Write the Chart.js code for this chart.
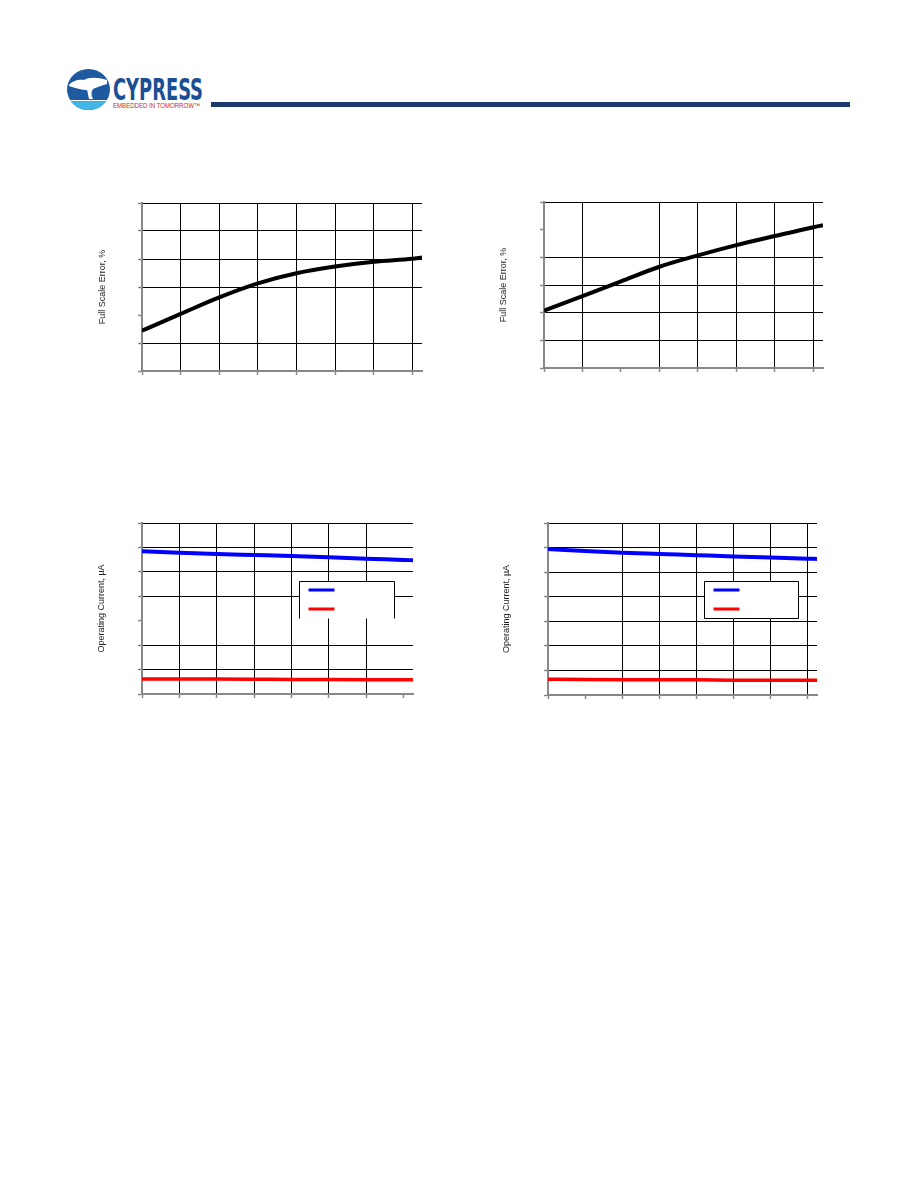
<!DOCTYPE html>
<html>
<head>
<meta charset="utf-8">
<script src="https://cdn.jsdelivr.net/npm/chart.js@4.4.0/dist/chart.umd.min.js"></script>
<style>
  body { margin: 0; background: #fff; width: 918px; height: 1188px; position: relative; overflow: hidden; }
  .abs { position: absolute; }
  .bar { left: 211px; top: 102px; width: 639px; height: 5px; background: #1b3a6e; }
</style>
</head>
<body>

<svg class="abs" style="left:60px;top:62px" width="160" height="54" viewBox="0 0 160 54">
  <defs><clipPath id="globe"><ellipse cx="28.5" cy="27.5" rx="21.5" ry="20.5"/></clipPath></defs>
  <g clip-path="url(#globe)">
    <rect width="60" height="60" fill="#1e5aa0"/>
    <rect y="38" width="60" height="1.2" fill="#fff"/>
    <rect y="39.2" width="60" height="14" fill="#41b6e6"/>
    <path d="M9 23 C12 19 18 17 24 18 C29 15 37 15 47 18 L47 22 C41 24 37 25 33 27 C31 30 31 33 33 37 L29 37 C28 33 28 31 27 28 C22 28 15 26 9 24 Z" fill="#fff"/>
  </g>
  <text x="53" y="38" font-family="Liberation Sans Narrow, DejaVu Sans Condensed, sans-serif" font-weight="bold" font-size="30" fill="#1a4f94" textLength="90" lengthAdjust="spacingAndGlyphs">CYPRESS</text>
  <text x="53" y="46" font-family="Liberation Sans, sans-serif" font-size="6.5" fill="#d2232a" textLength="87" lengthAdjust="spacingAndGlyphs">EMBEDDED IN TOMORROW™</text>
</svg>
<div class="abs bar"></div>

<canvas id="c1" class="abs" style="left:90px;top:195px" width="340" height="185"></canvas>
<canvas id="c2" class="abs" style="left:490px;top:194px" width="340" height="185"></canvas>
<canvas id="c3" class="abs" style="left:90px;top:515px" width="330" height="190"></canvas>
<canvas id="c4" class="abs" style="left:490px;top:515px" width="335" height="190"></canvas>

<script>
// x positions shared by all four plots (labels are not printed in the source)
const tempC = [-40, -20, 0, 20, 40, 60, 80, 100, 105];
const xTicks = [-40, -20, 0, 20, 40, 60, 80, 100];

// full scale error, %
const fseTicks = [-3, -2, -1, 0, 1, 2, 3];
const fseLeft = [-1.56, -0.96, -0.37, 0.13, 0.49, 0.73, 0.90, 1.01, 1.05];
const fseRight = [-0.93, -0.40, 0.13, 0.66, 1.07, 1.44, 1.77, 2.09, 2.16];

// operating current, uA
const curTicks = [0, 10, 20, 30, 40, 50, 60, 70];
const activeLeft = [58.4, 57.8, 57.3, 56.9, 56.5, 56.0, 55.4, 54.9, 54.75];
const sleepLeft = [6.1, 6.1, 6.1, 6.05, 5.95, 5.9, 5.85, 5.8, 5.8];
const activeRight = [59.4, 58.6, 57.9, 57.4, 56.9, 56.4, 56.0, 55.5, 55.35];
const sleepRight = [6.4, 6.3, 6.25, 6.25, 6.2, 6.05, 6.0, 6.0, 6.0];

const AXIS = '#888888';

const legendBox = (closed) => ({
  id: 'legendBox',
  afterDatasetsDraw(chart) {
    const a = chart.chartArea, ctx = chart.ctx;
    const l = Math.round(a.left + a.width * 0.58) + 0.5;
    const r = Math.round(a.left + a.width * 0.93) + 0.5;
    const t = Math.round(a.top + a.height * 0.34) + 0.5;
    const b = Math.round(a.top + a.height * 0.555) + 0.5;
    ctx.save();
    ctx.fillStyle = '#fff';
    ctx.fillRect(l, t, r - l, b - t);
    ctx.strokeStyle = '#000';
    ctx.lineWidth = 1;
    ctx.beginPath();
    if (closed) {
      ctx.rect(l, t, r - l, b - t);
    } else {
      ctx.moveTo(l, b); ctx.lineTo(l, t); ctx.lineTo(r, t); ctx.lineTo(r, b);
    }
    ctx.stroke();
    chart.data.datasets.forEach((ds, i) => {
      ctx.strokeStyle = ds.borderColor;
      ctx.lineWidth = 3;
      ctx.beginPath();
      const y = t + 8.5 + i * 19;
      ctx.moveTo(l + 9, y);
      ctx.lineTo(l + 35, y);
      ctx.stroke();
    });
    ctx.restore();
  }
});

function gridColor(hide) {
  return (c) => (c.tick && (c.index === 0 || hide.includes(c.tick.value))) ? 'rgba(0,0,0,0)' : '#000';
}

function makeChart(id, o) {
  return new Chart(document.getElementById(id), {
    type: 'line',
    data: {
      datasets: o.sets.map(s => ({
        data: tempC.map((x, i) => ({ x: x, y: s.data[i] })),
        borderColor: s.color,
        borderWidth: s.width,
        pointRadius: 0,
        cubicInterpolationMode: 'monotone',
        fill: false
      }))
    },
    options: {
      responsive: false,
      animation: false,
      devicePixelRatio: 1,
      layout: { padding: o.pad },
      plugins: { legend: { display: false }, tooltip: { enabled: false } },
      scales: {
        x: {
          type: 'linear',
          min: -40,
          max: 105,
          afterBuildTicks: s => { s.ticks = xTicks.map(v => ({ value: v })); },
          afterFit: s => { s.height = 4; },
          ticks: { display: false },
          grid: { color: gridColor(o.hideX), tickColor: AXIS, tickLength: 4, tickWidth: 1.5, lineWidth: 1 },
          border: { color: AXIS, width: 2 }
        },
        y: {
          min: o.yTicks[0],
          max: o.yTicks[o.yTicks.length - 1],
          afterBuildTicks: s => { s.ticks = o.yTicks.map(v => ({ value: v })); },
          afterFit: s => { s.width = o.yWidth; },
          ticks: { display: false },
          grid: { color: gridColor(o.hideY), tickColor: AXIS, tickLength: 4, tickWidth: 1.5, lineWidth: 1 },
          border: { color: AXIS, width: 2 },
          title: {
            display: true,
            text: o.title,
            color: '#222',
            font: { family: 'Liberation Sans, Arial, sans-serif', size: 9 },
            padding: { top: o.titlePad, bottom: 0 }
          }
        }
      }
    },
    plugins: o.legend ? [legendBox(o.legend === 'closed')] : []
  });
}

makeChart('c1', {
  sets: [{ data: fseLeft, color: '#000', width: 4 }],
  yTicks: fseTicks, hideX: [], hideY: [-1],
  yWidth: 52, pad: { top: 8, right: 8, bottom: 5, left: 0 },
  title: 'Full Scale Error, %', titlePad: 7
});

makeChart('c2', {
  sets: [{ data: fseRight, color: '#000', width: 4 }],
  yTicks: fseTicks, hideX: [0], hideY: [2],
  yWidth: 54, pad: { top: 8, right: 7, bottom: 7, left: 0 },
  title: 'Full Scale Error, %', titlePad: 8
});

makeChart('c3', {
  sets: [{ data: activeLeft, color: '#0000ff', width: 4 }, { data: sleepLeft, color: '#ff0000', width: 3.5 }],
  yTicks: curTicks, hideX: [100], hideY: [30],
  yWidth: 52, pad: { top: 8, right: 7, bottom: 7, left: 0 },
  title: 'Operating Current, µA', titlePad: 6, legend: 'open'
});

makeChart('c4', {
  sets: [{ data: activeRight, color: '#0000ff', width: 4 }, { data: sleepRight, color: '#ff0000', width: 3.5 }],
  yTicks: curTicks, hideX: [-20], hideY: [],
  yWidth: 58, pad: { top: 8, right: 8, bottom: 6, left: 0 },
  title: 'Operating Current, µA', titlePad: 11, legend: 'closed'
});
</script>
</body>
</html>
